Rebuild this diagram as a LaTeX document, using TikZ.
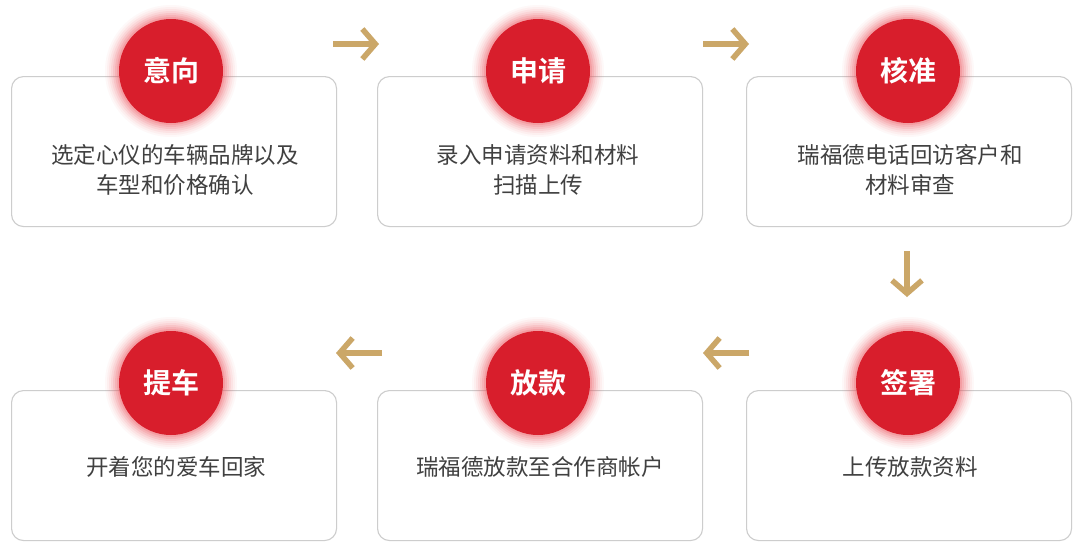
\documentclass[tikz,border=0pt]{standalone}
\usepackage{fontspec}
\newfontfamily\cjk{Noto Sans CJK SC}
\newfontfamily\cjkb{Noto Sans CJK SC Bold}
\usetikzlibrary{arrows.meta}
\definecolor{cred}{RGB}{216,30,44}
\definecolor{cglow}{RGB}{240,80,90}
\definecolor{cgold}{RGB}{203,167,104}
\definecolor{cborder}{RGB}{205,205,205}
\definecolor{ctext}{RGB}{64,64,64}
\tikzset{
  x=1pt,y=-1pt,
  card/.style={draw=cborder,line width=1.1pt,rounded corners=12pt,fill=white,
    minimum width=325pt,minimum height=150pt,inner sep=0pt,anchor=north west},
  badge/.style={circle,fill=cred,minimum size=104pt,inner sep=0pt,
    font=\cjkb\fontsize{28}{32}\selectfont,text=white},
  desc/.style={font=\cjk\fontsize{22.5}{30}\selectfont,text=ctext,align=center},
  flow/.style={draw=cgold,line width=5.5pt,-{Straight Barb[length=13pt,width=30pt,line width=5.5pt]}},
}
\newcommand{\glowat}[1]{%
  \foreach \r/\o in {66/0.04,64/0.05,62/0.07,60/0.09,58/0.12,56/0.15,54/0.2}{
    \fill[cglow,opacity=\o] (#1) circle (\r pt);}}
\begin{document}
\begin{tikzpicture}
\useasboundingbox (0,0) rectangle (1080,550);
\fill[white] (0,0) rectangle (1080,550);
% cards
\node[card] (c1) at (11,76) {};
\node[card] (c2) at (377,76) {};
\node[card] (c3) at (746,76) {};
\node[card] (c4) at (746,390) {};
\node[card] (c5) at (377,390) {};
\node[card] (c6) at (11,390) {};
% glows
\coordinate (g1) at (171,71);
\coordinate (g2) at (538,71);
\coordinate (g3) at (908,71);
\coordinate (g4) at (908,383);
\coordinate (g5) at (538,383);
\coordinate (g6) at (171,383);
\glowat{g1}\glowat{g2}\glowat{g3}\glowat{g4}\glowat{g5}\glowat{g6}
% badges
\node[badge] (b1) at (g1) {意向};
\node[badge] (b2) at (g2) {申请};
\node[badge] (b3) at (g3) {核准};
\node[badge] (b4) at (g4) {签署};
\node[badge] (b5) at (g5) {放款};
\node[badge] (b6) at (g6) {提车};
% descriptions
\node[desc] (d1) at (175,170) {选定心仪的车辆品牌以及\\车型和价格确认};
\node[desc] (d2) at (538,170) {录入申请资料和材料\\扫描上传};
\node[desc] (d3) at (910,170) {瑞福德电话回访客户和\\材料审查};
\node[desc] (d4) at (910,467) {上传放款资料};
\node[desc] (d5) at (540,467) {瑞福德放款至合作商帐户};
\node[desc] (d6) at (176,467) {开着您的爱车回家};
% arrows
\coordinate (a1s) at (333,44); \coordinate (a1e) at (379,44);
\coordinate (a2s) at (703,44); \coordinate (a2e) at (749,44);
\coordinate (a3s) at (907,251); \coordinate (a3e) at (907,297);
\coordinate (a4s) at (749,353); \coordinate (a4e) at (703,353);
\coordinate (a5s) at (382,353); \coordinate (a5e) at (336,353);
\draw[flow] (a1s) -- (a1e);
\draw[flow] (a2s) -- (a2e);
\draw[flow] (a3s) -- (a3e);
\draw[flow] (a4s) -- (a4e);
\draw[flow] (a5s) -- (a5e);
\end{tikzpicture}
\end{document}
